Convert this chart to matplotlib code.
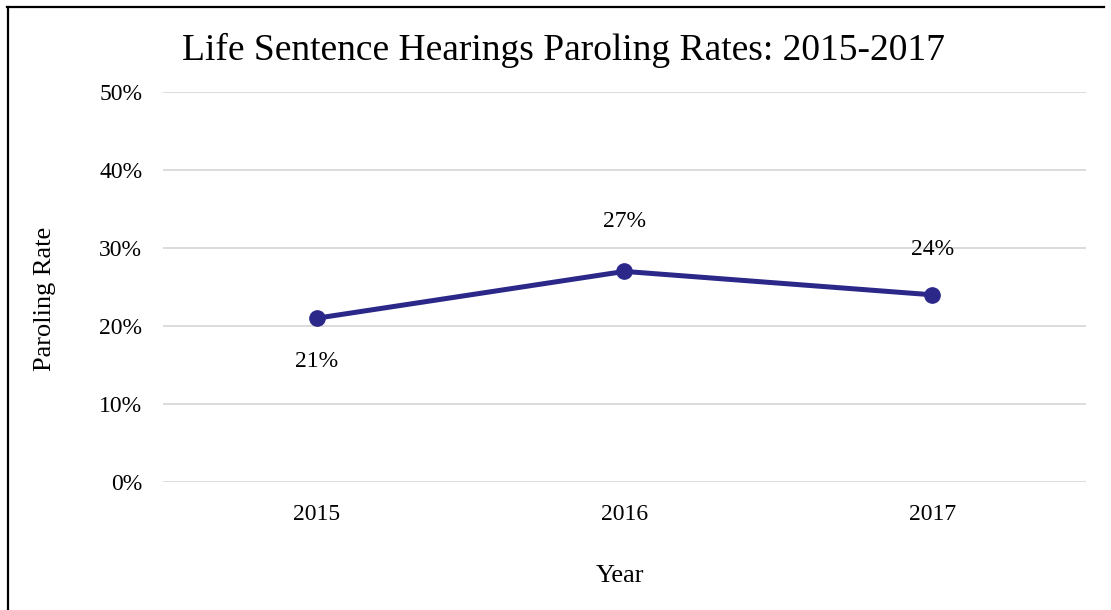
import matplotlib
matplotlib.use("Agg")
import matplotlib.pyplot as plt
from matplotlib.lines import Line2D

years = ["2015", "2016", "2017"]
rates = [0.21, 0.27, 0.24]
rate_labels = ["21%", "27%", "24%"]
label_offsets = [-43, 50, 45]  # pixel offsets of data labels
yticks = [0, 0.1, 0.2, 0.3, 0.4, 0.5]
ytick_labels = ["0%", "10%", "20%", "30%", "40%", "50%"]

plt.rcParams['font.family'] = ['Liberation Serif', 'DejaVu Serif']

W, H = 1111, 610
fig = plt.figure(figsize=(W / 100, H / 100), dpi=100)
ax = fig.add_axes([163 / W, (H - 482) / H, (1086 - 163) / W, (482 - 92) / H])

x = list(range(len(years)))
line_color = '#2B288A'
ax.plot(x, rates, color=line_color, linewidth=3.6, marker='o', markersize=11,
        solid_capstyle='round', zorder=3)

for xi, r, lab, off in zip(x, rates, rate_labels, label_offsets):
    ax.annotate(lab, (xi, r), xytext=(0, off), textcoords='offset pixels',
                ha='center', va='center', fontsize=17, color='black')

ax.set_xlim(-0.5, len(years) - 0.5)
ax.set_ylim(0, 0.5)
ax.set_yticks(yticks)
ax.set_yticklabels(ytick_labels)
ax.set_xticks(x)
ax.set_xticklabels(years)
ax.tick_params(axis='both', length=0, labelsize=17, colors='black')
ax.tick_params(axis='y', pad=15)
ax.tick_params(axis='x', pad=16)
ax.grid(axis='y', color='#d9d9d9', linewidth=1.3)
ax.set_axisbelow(True)
for s in ax.spines.values():
    s.set_visible(False)

fig.text(563 / W, 1 - 50 / H, "Life Sentence Hearings Paroling Rates: 2015-2017",
         ha='center', va='center', fontsize=27)
fig.text(45 / W, 1 - 299 / H, "Paroling Rate", rotation=90,
         ha='center', va='center', fontsize=19)
fig.text(620 / W, 1 - 576 / H, "Year", ha='center', va='center', fontsize=19)

# partial frame (left and top borders)
fig.add_artist(Line2D([8 / W, 8 / W], [0, 1 - 7 / H], transform=fig.transFigure,
                      color='black', linewidth=1.6))
fig.add_artist(Line2D([7 / W, 1104 / W], [1 - 7 / H, 1 - 7 / H], transform=fig.transFigure,
                      color='black', linewidth=1.6))

fig.savefig("out.png", dpi=100, facecolor='white')
